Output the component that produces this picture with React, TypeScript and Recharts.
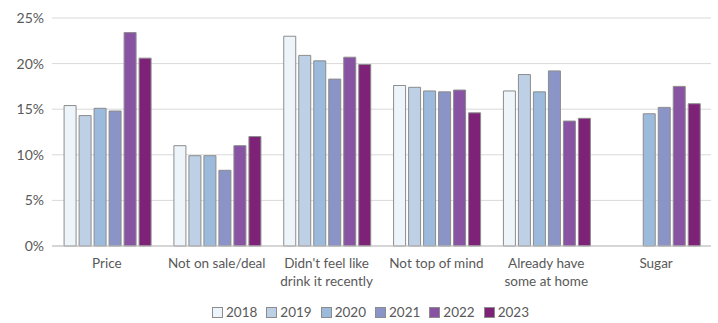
import React from 'react';
import { BarChart, Bar, XAxis, YAxis, CartesianGrid, Legend } from 'recharts';

const categories = ['Price', 'Not on sale/deal', "Didn't feel like drink it recently", 'Not top of mind', 'Already have some at home', 'Sugar'];
const tickLines: string[][] = [
  ['Price'],
  ['Not on sale/deal'],
  ["Didn't feel like", 'drink it recently'],
  ['Not top of mind'],
  ['Already have', 'some at home'],
  ['Sugar'],
];

const years = ['2018', '2019', '2020', '2021', '2022', '2023'];
const v2018 = [15.4, 11.0, 23.0, 17.6, 17.0, null];
const v2019 = [14.3, 9.9, 20.9, 17.4, 18.8, null];
const v2020 = [15.1, 9.9, 20.3, 17.0, 16.9, 14.5];
const v2021 = [14.8, 8.3, 18.3, 16.9, 19.2, 15.2];
const v2022 = [23.4, 11.0, 20.7, 17.1, 13.7, 17.5];
const v2023 = [20.6, 12.0, 19.9, 14.6, 14.0, 15.6];
const yTicks = [0, 5, 10, 15, 20, 25];

const COLORS = ['#EEF5FA', '#BDD0E5', '#9CBADB', '#8A94C6', '#8953A4', '#7D2277'];
const FONT = 'Lato, "Open Sans", sans-serif';

const series = [v2018, v2019, v2020, v2021, v2022, v2023];
const data = categories.map((name, i) => {
  const row: Record<string, any> = { name };
  years.forEach((y, j) => {
    row[y] = series[j][i];
  });
  return row;
});

function XTick({ x, y, payload }: any) {
  const lines = tickLines[payload.index] ?? [payload.value];
  return (
    <text x={x} y={y + 14} textAnchor="middle" fill="#595959" fontSize={13.5} fontFamily={FONT}>
      {lines.map((l, i) => (
        <tspan key={i} x={x} dy={i === 0 ? 0 : 18}>
          {l}
        </tspan>
      ))}
    </text>
  );
}

function LegendContent() {
  return (
    <div style={{ display: 'flex', justifyContent: 'center', gap: 9, marginTop: 3, paddingLeft: 30, fontFamily: FONT, fontSize: 13.5, color: '#595959' }}>
      {years.map((y, i) => (
        <div key={y} style={{ display: 'flex', alignItems: 'center' }}>
          <span style={{ width: 9, height: 9, background: COLORS[i], border: '1px solid #8c8c8c', marginRight: 3, display: 'inline-block' }} />
          {y}
        </div>
      ))}
    </div>
  );
}

export default function App() {
  return (
    <div style={{ position: 'absolute', left: 0, top: 0, width: 718, height: 323, background: '#fff' }}>
      <BarChart width={718} height={323} data={data} margin={{ top: 18, right: 7, left: 0, bottom: 0 }} barCategoryGap="11%" barGap={3}>
        <CartesianGrid vertical={false} stroke="#d9d9d9" />
        <XAxis dataKey="name" tick={<XTick />} tickLine={false} axisLine={{ stroke: '#bfbfbf' }} interval={0} height={55} />
        <YAxis
          domain={[0, 25]}
          ticks={yTicks}
          tickFormatter={(v) => `${v}%`}
          width={52}
          axisLine={false}
          tickLine={false}
          tick={{ fill: '#595959', fontSize: 14, fontFamily: FONT }}
        />
        <Legend content={<LegendContent />} verticalAlign="bottom" wrapperStyle={{ height: 22 }} />
        {years.map((y, i) => (
          <Bar key={y} dataKey={y} fill={COLORS[i]} stroke="#8c8c8c" strokeWidth={1} isAnimationActive={false} />
        ))}
      </BarChart>
    </div>
  );
}
